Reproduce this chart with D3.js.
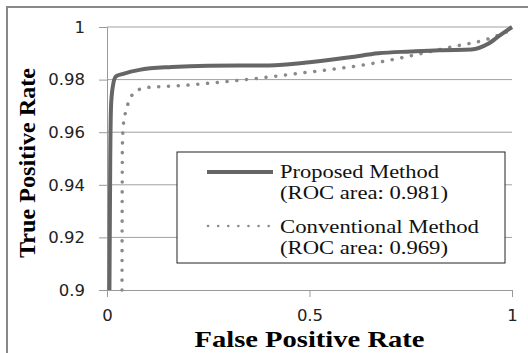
<!DOCTYPE html>
<html>
  <head>
    <meta charset="utf-8">
    <title>ROC curves</title>
    <script src="https://d3js.org/d3.v7.min.js"></script>
    <style>
      body { margin: 0; background: #fff; }
      .tick text { font-family: "DejaVu Sans", sans-serif; font-size: 16.5px; fill: #222; }
    </style>
  </head>
  <body>
    <div class="chart"></div>
    <script>
      // ROC curves
      var proposedFpr = [0.006, 0.008, 0.010, 0.014, 0.022, 0.04, 0.08, 0.16, 0.25, 0.40, 0.50, 0.60, 0.67, 0.75, 0.82, 0.90, 0.94, 0.97, 1.0];
      var proposedTpr = [0.900, 0.950, 0.970, 0.977, 0.9812, 0.9822, 0.9837, 0.9848, 0.9853, 0.9854, 0.9866, 0.9885, 0.9900, 0.9907, 0.9912, 0.9914, 0.9935, 0.9968, 1.0];
      var conventionalFpr = [0.037, 0.038, 0.040, 0.045, 0.055, 0.07, 0.10, 0.17, 0.31, 0.48, 0.65, 0.77, 0.85, 0.94, 1.0];
      var conventionalTpr = [0.900, 0.955, 0.962, 0.967, 0.972, 0.9755, 0.9770, 0.9776, 0.9795, 0.9825, 0.9860, 0.9897, 0.9924, 0.9954, 0.9990];
      var xTicks = [0, 0.5, 1];
      var yTicks = [0.9, 0.92, 0.94, 0.96, 0.98, 1];
      var legendLabels = [["Proposed Method", "(ROC area: 0.981)"], ["Conventional Method", "(ROC area: 0.969)"]];

      var width = 528, height = 353;
      var svg = d3.select(".chart").append("svg")
        .attr("width", width)
        .attr("height", height);

      // outer frame
      svg.append("rect")
        .attr("x", 7).attr("y", 7)
        .attr("width", 530).attr("height", 360)
        .attr("fill", "none")
        .attr("stroke", "#888")
        .attr("stroke-width", 2);

      var x = d3.scaleLinear().domain([0, 1]).range([107, 512]);
      var y = d3.scaleLinear().domain([0.9, 1]).range([290, 27]);

      // gridlines
      svg.append("g")
        .selectAll("line")
        .data(yTicks.slice(1))
        .enter().append("line")
          .attr("x1", x(0)).attr("x2", x(1))
          .attr("y1", d => y(d)).attr("y2", d => y(d))
          .attr("stroke", "#a0a0a0")
          .attr("stroke-width", 1);

      var yAxis = svg.append("g")
        .attr("transform", "translate(" + x(0) + ",0)")
        .call(d3.axisLeft(y).tickValues(yTicks).tickFormat(d3.format("~g")).tickSize(8).tickPadding(14));
      var xAxis = svg.append("g")
        .attr("transform", "translate(0," + y(0.9) + ")")
        .call(d3.axisBottom(x).tickValues(xTicks).tickFormat(d3.format("~g")).tickSize(7).tickPadding(12));
      [xAxis, yAxis].forEach(function(a) {
        a.select(".domain").attr("stroke", "#999");
        a.selectAll(".tick line").attr("stroke", "#999");
      });

      var line = d3.line()
        .x(d => x(d[0]))
        .y(d => y(d[1]))
        .curve(d3.curveMonotoneX);

      svg.append("path")
        .datum(d3.zip(conventionalFpr, conventionalTpr))
        .attr("d", line)
        .attr("fill", "none")
        .attr("stroke", "#8a8a8a")
        .attr("stroke-width", 3.5)
        .attr("stroke-linecap", "round")
        .attr("stroke-dasharray", "0.1 9.7");

      svg.append("path")
        .datum(d3.zip(proposedFpr, proposedTpr))
        .attr("d", line)
        .attr("fill", "none")
        .attr("stroke", "#666")
        .attr("stroke-width", 4);

      // axis titles
      svg.append("text")
        .attr("x", x(0.5)).attr("y", 347)
        .attr("text-anchor", "middle")
        .attr("textLength", 230)
        .attr("lengthAdjust", "spacingAndGlyphs")
        .style("font-family", "'Liberation Serif', serif")
        .style("font-weight", "bold")
        .style("font-size", "24px")
        .text("False Positive Rate");
      svg.append("text")
        .attr("transform", "translate(35,163) rotate(-90)")
        .attr("text-anchor", "middle")
        .attr("textLength", 190)
        .attr("lengthAdjust", "spacingAndGlyphs")
        .style("font-family", "'Liberation Serif', serif")
        .style("font-weight", "bold")
        .style("font-size", "24px")
        .text("True Positive Rate");

      // legend
      var legend = svg.append("g");
      legend.append("rect")
        .attr("x", 177).attr("y", 152)
        .attr("width", 328).attr("height", 111)
        .attr("fill", "#fff")
        .attr("stroke", "#222")
        .attr("stroke-width", 1);
      legend.append("line")
        .attr("x1", 207).attr("x2", 273).attr("y1", 172).attr("y2", 172)
        .attr("stroke", "#666").attr("stroke-width", 4);
      legend.append("line")
        .attr("x1", 208).attr("x2", 270).attr("y1", 226).attr("y2", 226)
        .attr("stroke", "#8a8a8a").attr("stroke-width", 2.5)
        .attr("stroke-linecap", "round")
        .attr("stroke-dasharray", "0.1 10");
      var baselines = [[178, 199], [233, 254]];
      var lengths = [[159, 168], [199, 168]];
      legendLabels.forEach(function(lines, i) {
        lines.forEach(function(t, j) {
          legend.append("text")
            .attr("x", 280).attr("y", baselines[i][j])
            .attr("textLength", lengths[i][j])
            .attr("lengthAdjust", "spacingAndGlyphs")
            .style("font-family", "'Liberation Serif', serif")
            .style("font-size", "19px")
            .attr("fill", "#111")
            .text(t);
        });
      });
    </script>
  </body>
</html>
